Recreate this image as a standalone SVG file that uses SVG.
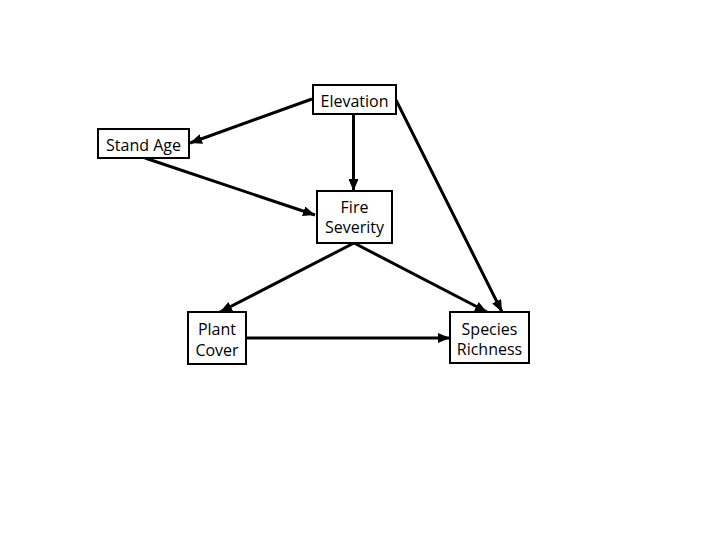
<svg xmlns="http://www.w3.org/2000/svg" width="720" height="540" viewBox="0 0 720 540">
<style>
.box{fill:#fff;stroke:#000;stroke-width:2}
.lbl{font-family:"Open Sans","Liberation Sans",sans-serif;font-size:16px;fill:#000;text-anchor:middle}
.edge{stroke:#000;stroke-width:3;fill:none;marker-end:url(#ah)}
</style>
<defs>
<marker id="ah" viewBox="0 0 12 10" refX="12" refY="5" markerWidth="12" markerHeight="10" markerUnits="userSpaceOnUse" orient="auto">
<path d="M0,0 L12,5 L0,10 z" fill="#000"/>
</marker>
</defs>
<rect width="720" height="540" fill="#fff"/>
<g id="connectors">
<line class="edge" x1="312" y1="99" x2="190" y2="143"/>
<line class="edge" x1="353.5" y1="114" x2="353.5" y2="191"/>
<line class="edge" x1="396" y1="100" x2="502" y2="312"/>
<line class="edge" x1="145" y1="158" x2="315" y2="215"/>
<line class="edge" x1="354" y1="243" x2="220" y2="312"/>
<line class="edge" x1="354" y1="243" x2="487" y2="312"/>
<line class="edge" x1="246" y1="338" x2="450" y2="338"/>
</g>
<g id="elevation">
<rect class="box" x="313" y="85" width="83" height="29"/>
<text class="lbl" x="354.5" y="107">Elevation</text>
</g>
<g id="standage">
<rect class="box" x="98" y="129" width="91" height="29"/>
<text class="lbl" x="143.5" y="151">Stand Age</text>
</g>
<g id="fireseverity">
<rect class="box" x="317" y="191" width="75" height="52"/>
<text class="lbl" x="354.5" y="213">Fire</text>
<text class="lbl" x="354.5" y="233">Severity</text>
</g>
<g id="plantcover">
<rect class="box" x="188" y="312" width="58" height="52"/>
<text class="lbl" x="217" y="335">Plant</text>
<text class="lbl" x="217" y="356">Cover</text>
</g>
<g id="speciesrichness">
<rect class="box" x="450" y="312" width="79" height="51"/>
<text class="lbl" x="489.5" y="335">Species</text>
<text class="lbl" x="489.5" y="355">Richness</text>
</g>
</svg>
